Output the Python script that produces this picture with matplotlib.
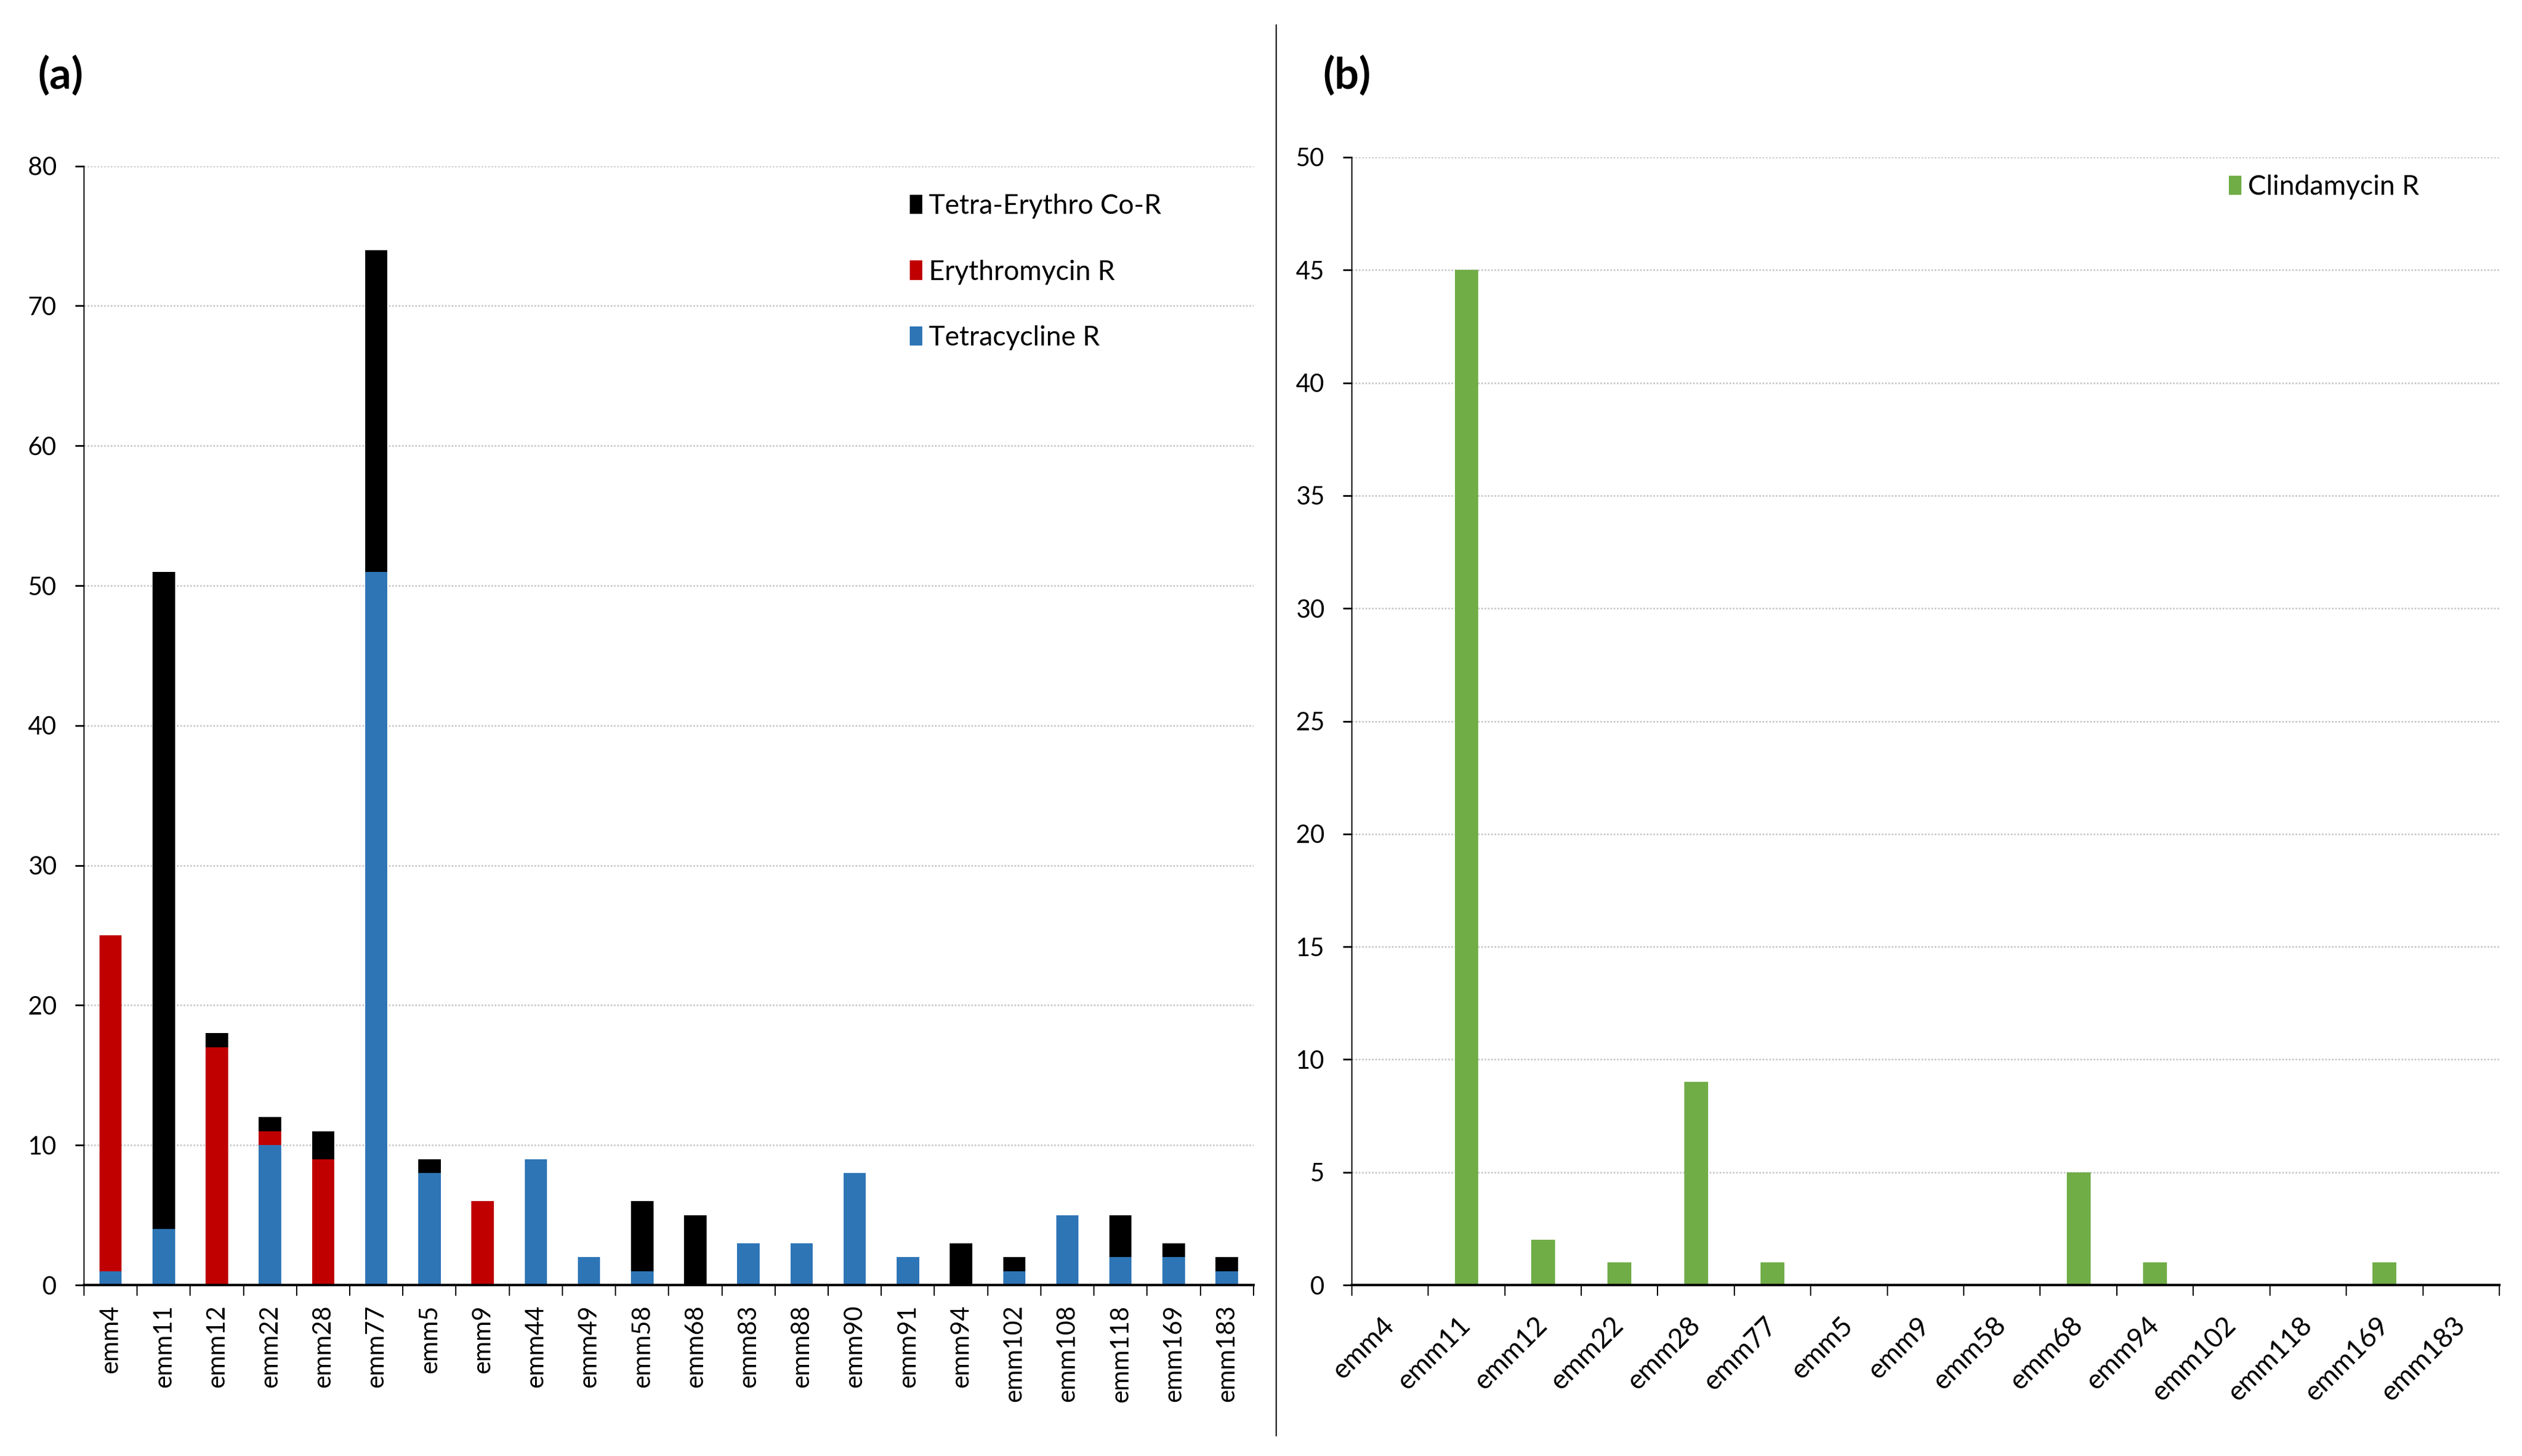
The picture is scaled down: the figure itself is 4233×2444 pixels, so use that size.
import numpy as np
import matplotlib
matplotlib.use('Agg')
import matplotlib.pyplot as plt
from matplotlib.lines import Line2D
from matplotlib.ticker import MultipleLocator, FixedLocator

plt.rcParams['font.family'] = ['Lato', 'DejaVu Sans']

# (a) stacked resistance counts per emm type
emm_a = ['emm4', 'emm11', 'emm12', 'emm22', 'emm28', 'emm77', 'emm5', 'emm9', 'emm44', 'emm49', 'emm58',
         'emm68', 'emm83', 'emm88', 'emm90', 'emm91', 'emm94', 'emm102', 'emm108', 'emm118', 'emm169', 'emm183']
tetra = [1, 4, 0, 10, 0, 51, 8, 0, 9, 2, 1, 0, 3, 3, 8, 2, 0, 1, 5, 2, 2, 1]
erythro = [24, 0, 17, 1, 9, 0, 0, 6, 0, 0, 0, 0, 0, 0, 0, 0, 0, 0, 0, 0, 0, 0]
co_r = [0, 47, 1, 1, 2, 23, 1, 0, 0, 0, 5, 5, 0, 0, 0, 0, 3, 1, 0, 3, 1, 1]

# (b) clindamycin resistance
emm_b = ['emm4', 'emm11', 'emm12', 'emm22', 'emm28', 'emm77', 'emm5', 'emm9', 'emm58', 'emm68', 'emm94',
         'emm102', 'emm118', 'emm169', 'emm183']
clinda = [0, 45, 2, 1, 9, 1, 0, 0, 0, 5, 1, 0, 0, 1, 0]

BLUE = '#2E75B6'
RED = '#C00000'
BLACK = '#000000'
GREEN = '#70AD47'
FS = 30
LFS = 33

fig = plt.figure(figsize=(42.33, 24.44), dpi=100)
ax1 = fig.add_axes([0.0333, 0.1174, 0.4637, 0.7686])
ax2 = fig.add_axes([0.536, 0.1174, 0.455, 0.7746])


def style_axes(ax, n, ymax, step):
    ax.set_xlim(-0.5, n - 0.5)
    ax.set_ylim(0, ymax)
    ax.yaxis.set_major_locator(MultipleLocator(step))
    ax.grid(axis='y', color='#c8c8c8', linestyle=(0, (1, 1)), linewidth=2)
    ax.set_axisbelow(True)
    for s in ['top', 'right']:
        ax.spines[s].set_visible(False)
    ax.spines['left'].set_linewidth(1.5)
    ax.spines['bottom'].set_linewidth(3)
    ax.spines['bottom'].set_zorder(5)
    ax.xaxis.set_minor_locator(FixedLocator(np.arange(n + 1) - 0.5))
    ax.tick_params(axis='x', which='major', length=0, labelsize=FS)
    ax.tick_params(axis='x', which='minor', length=13, width=1.5, direction='out')
    ax.tick_params(axis='y', which='major', length=11, width=2, labelsize=FS, pad=22)


x_a = np.arange(len(emm_a))
w_a = 0.42
ax1.bar(x_a, tetra, w_a, color=BLUE, label='Tetracycline R', zorder=3)
ax1.bar(x_a, erythro, w_a, bottom=tetra, color=RED, label='Erythromycin R', zorder=3)
ax1.bar(x_a, co_r, w_a, bottom=np.array(tetra) + np.array(erythro), color=BLACK,
        label='Tetra-Erythro Co-R', zorder=3)
style_axes(ax1, len(emm_a), 80, 10)
ax1.set_xticks(x_a)
ax1.set_xticklabels(emm_a, rotation=90, va='top', ha='center')
ax1.tick_params(axis='x', which='major', pad=24)
h, l = ax1.get_legend_handles_labels()
ax1.legend(h[::-1], l[::-1], loc='upper left', bbox_to_anchor=(0.351, 0.884), bbox_transform=fig.transFigure,
           frameon=False, fontsize=LFS, handlelength=0.45, handleheight=0.7, handletextpad=0.25,
           labelspacing=1.5)

x_b = np.arange(len(emm_b))
ax2.bar(x_b, clinda, 0.31, color=GREEN, label='Clindamycin R', zorder=3)
style_axes(ax2, len(emm_b), 50, 5)
ax2.set_xticks(x_b)
ax2.set_xticklabels(emm_b, rotation=45, ha='right', va='center', rotation_mode='anchor', fontsize=33)
ax2.tick_params(axis='x', which='major', pad=44)
ax2.legend(loc='upper left', bbox_to_anchor=(0.874, 0.897), bbox_transform=fig.transFigure,
           frameon=False, fontsize=LFS, handlelength=0.45, handleheight=0.7, handletextpad=0.25)

fig.text(0.024, 0.948, '(a)', fontsize=52, fontweight='bold', ha='center', va='center')
fig.text(0.534, 0.948, '(b)', fontsize=52, fontweight='bold', ha='center', va='center')
fig.add_artist(Line2D([0.506, 0.506], [0.014, 0.983], transform=fig.transFigure, color='black', lw=1.5))

fig.savefig('out.png', dpi=100)
